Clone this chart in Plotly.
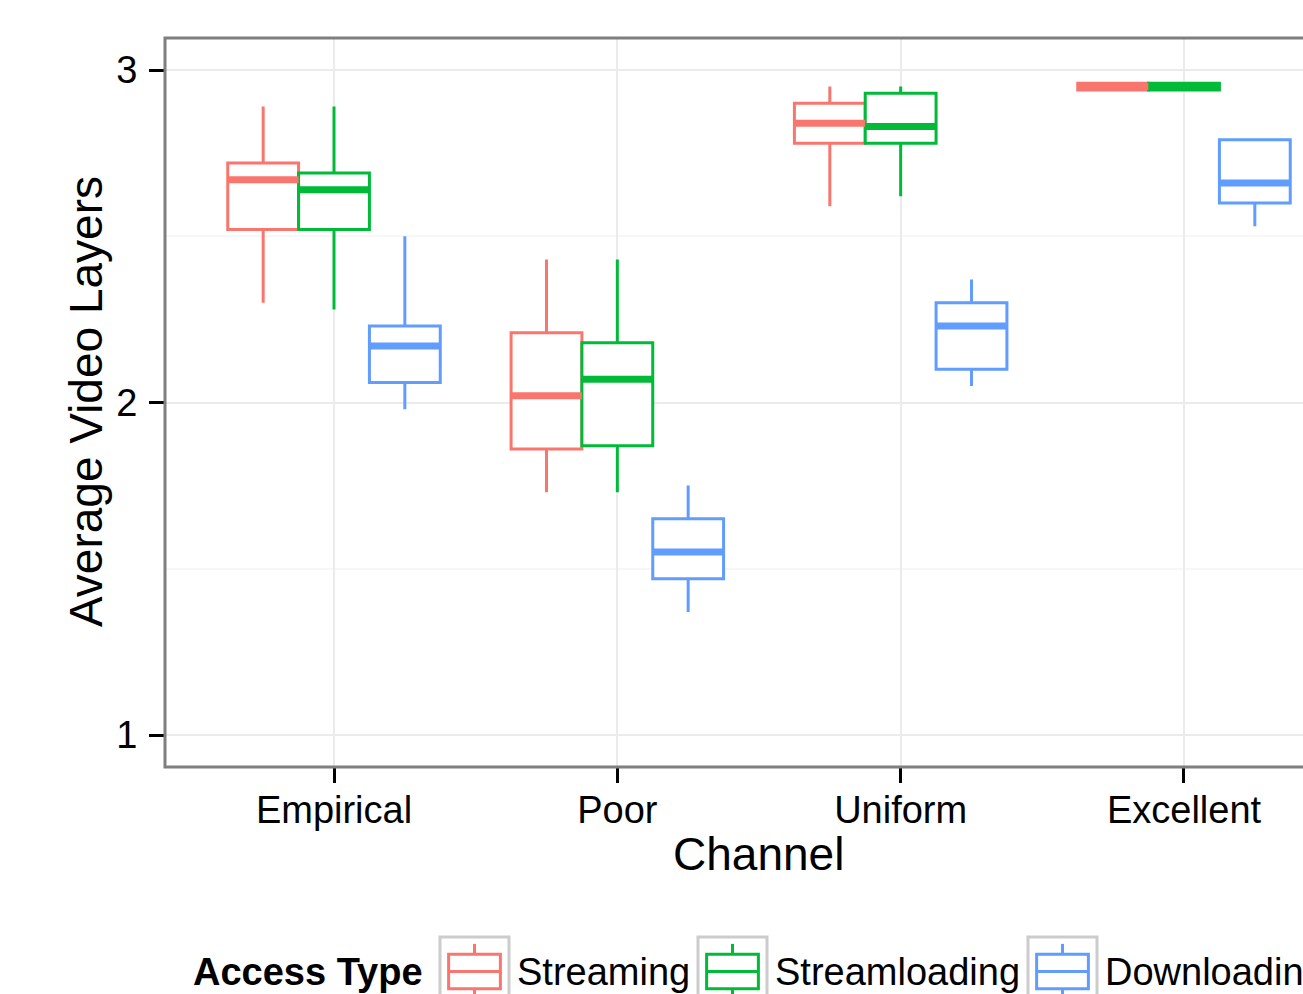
import plotly.graph_objects as go

# ---- data -------------------------------------------------------------
channels = ["Empirical", "Poor", "Uniform", "Excellent"]
access_types = ["Streaming", "Streamloading", "Downloading"]
colors = ["#F8766D", "#00BA38", "#619CFF"]

streaming_lower = [2.30, 1.73, 2.59, 2.94]
streaming_q1 = [2.52, 1.86, 2.78, 2.94]
streaming_median = [2.67, 2.02, 2.84, 2.95]
streaming_q3 = [2.72, 2.21, 2.90, 2.96]
streaming_upper = [2.89, 2.43, 2.95, 2.96]

streamloading_lower = [2.28, 1.73, 2.62, 2.94]
streamloading_q1 = [2.52, 1.87, 2.78, 2.94]
streamloading_median = [2.64, 2.07, 2.83, 2.95]
streamloading_q3 = [2.69, 2.18, 2.93, 2.96]
streamloading_upper = [2.89, 2.43, 2.95, 2.96]

downloading_lower = [1.98, 1.37, 2.05, 2.53]
downloading_q1 = [2.06, 1.47, 2.10, 2.60]
downloading_median = [2.17, 1.55, 2.23, 2.66]
downloading_q3 = [2.23, 1.65, 2.30, 2.79]
downloading_upper = [2.50, 1.75, 2.37, 2.79]

y_ticks = [1, 2, 3]

stats = [
    (streaming_lower, streaming_q1, streaming_median, streaming_q3, streaming_upper),
    (streamloading_lower, streamloading_q1, streamloading_median, streamloading_q3, streamloading_upper),
    (downloading_lower, downloading_q1, downloading_median, downloading_q3, downloading_upper),
]

# ---- layout geometry ----------------------------------------------------
FIG_W, FIG_H = 1303, 994
M_L, M_T, M_B = 165, 38, 227
PLOT_W = FIG_W - M_L
PLOT_H = FIG_H - M_T - M_B
BOX_W = 0.25            # dodge width per box (3 boxes -> 0.75 per group)
FONT = "Liberation Sans, Arial, Helvetica, sans-serif"


def px(x):
    return (x - M_L) / PLOT_W


def py(y):
    return (FIG_H - M_B - y) / PLOT_H


fig = go.Figure()

for i, (name, col, (lo, q1, med, q3, hi)) in enumerate(zip(access_types, colors, stats)):
    offset = (i - 1) * BOX_W
    xs = [k + offset for k in range(len(channels))]
    fig.add_trace(go.Box(
        name=name, x=xs, q1=q1, median=med, q3=q3,
        lowerfence=lo, upperfence=hi,
        width=BOX_W, whiskerwidth=0, boxpoints=False,
        fillcolor="white", line=dict(color=col, width=3),
        showlegend=False,
    ))
    # fattened median bar
    mx, my = [], []
    for x, m in zip(xs, med):
        mx += [x - BOX_W / 2, x + BOX_W / 2, None]
        my += [m, m, None]
    fig.add_trace(go.Scatter(
        x=mx, y=my, mode="lines", line=dict(color=col, width=7),
        hoverinfo="skip", showlegend=False,
    ))

shapes = []
annotations = []

# panel border (right side runs off the canvas)
shapes.append(dict(type="rect", xref="paper", yref="paper", x0=0, x1=1.2, y0=0, y1=1,
                   line=dict(color="#7F7F7F", width=3), layer="above"))

# axis titles
annotations.append(dict(text="Channel", xref="paper", yref="paper", x=px(758), y=py(854),
                        xanchor="center", yanchor="middle", showarrow=False,
                        font=dict(size=46, color="black", family=FONT)))
annotations.append(dict(text="Average Video Layers", xref="paper", yref="paper", x=px(86), y=py(402),
                        xanchor="center", yanchor="middle", showarrow=False, textangle=-90,
                        font=dict(size=46, color="black", family=FONT)))

# legend
annotations.append(dict(text="<b>Access Type</b>", xref="paper", yref="paper", x=px(191), y=py(972),
                        xanchor="left", yanchor="middle", showarrow=False,
                        font=dict(size=38, color="black", family=FONT)))
key_left = [440, 698, 1028]
text_left = [515, 773, 1103]
KEY = 69
KEY_TOP = 937
for name, col, kx, tx in zip(access_types, colors, key_left, text_left):
    shapes.append(dict(type="rect", xref="paper", yref="paper",
                       x0=px(kx), x1=px(kx + KEY), y0=py(KEY_TOP), y1=py(KEY_TOP + KEY),
                       line=dict(color="#CCCCCC", width=3), fillcolor="white"))
    bx0, bx1 = kx + 0.125 * KEY, kx + 0.875 * KEY
    cx = kx + KEY / 2
    shapes.append(dict(type="rect", xref="paper", yref="paper",
                       x0=px(bx0), x1=px(bx1), y0=py(KEY_TOP + 0.25 * KEY), y1=py(KEY_TOP + 0.75 * KEY),
                       line=dict(color=col, width=3), fillcolor="white"))
    shapes.append(dict(type="line", xref="paper", yref="paper",
                       x0=px(bx0), x1=px(bx1), y0=py(KEY_TOP + 0.5 * KEY), y1=py(KEY_TOP + 0.5 * KEY),
                       line=dict(color=col, width=3)))
    shapes.append(dict(type="line", xref="paper", yref="paper",
                       x0=px(cx), x1=px(cx), y0=py(KEY_TOP + 0.1 * KEY), y1=py(KEY_TOP + 0.25 * KEY),
                       line=dict(color=col, width=3)))
    shapes.append(dict(type="line", xref="paper", yref="paper",
                       x0=px(cx), x1=px(cx), y0=py(KEY_TOP + 0.75 * KEY), y1=py(KEY_TOP + 0.9 * KEY),
                       line=dict(color=col, width=3)))
    annotations.append(dict(text=name, xref="paper", yref="paper", x=px(tx), y=py(972),
                            xanchor="left", yanchor="middle", showarrow=False,
                            font=dict(size=38, color="black", family=FONT)))

x_lo = -169 / 283.33
x_hi = x_lo + PLOT_W / 283.33
y_lo = 1 - 32 / 332.5
y_hi = 3 + 32 / 332.5

fig.update_layout(
    width=FIG_W, height=FIG_H,
    margin=dict(l=M_L, r=0, t=M_T, b=M_B, pad=0),
    paper_bgcolor="white", plot_bgcolor="white",
    font=dict(family=FONT, size=38, color="black"),
    showlegend=False,
    shapes=shapes, annotations=annotations,
    xaxis=dict(
        range=[x_lo, x_hi], tickmode="array", tickvals=list(range(len(channels))), ticktext=channels,
        showgrid=True, gridcolor="#EBEBEB", gridwidth=2, zeroline=False, showline=False,
        ticks="outside", ticklen=15, tickwidth=3, tickcolor="black",
        tickfont=dict(size=38, color="black", family=FONT), ticklabelstandoff=-6,
    ),
    yaxis=dict(
        range=[y_lo, y_hi], tickmode="array", tickvals=y_ticks,
        showgrid=True, gridcolor="#EBEBEB", gridwidth=2, zeroline=False, showline=False,
        ticks="outside", ticklen=15, tickwidth=3, tickcolor="black",
        tickfont=dict(size=38, color="black", family=FONT), ticklabelstandoff=4,
        minor=dict(tickmode="array", tickvals=[1.5, 2.5], showgrid=True,
                   gridcolor="#F7F7F7", gridwidth=2, ticks=""),
    ),
)

fig.write_html("out.html")
